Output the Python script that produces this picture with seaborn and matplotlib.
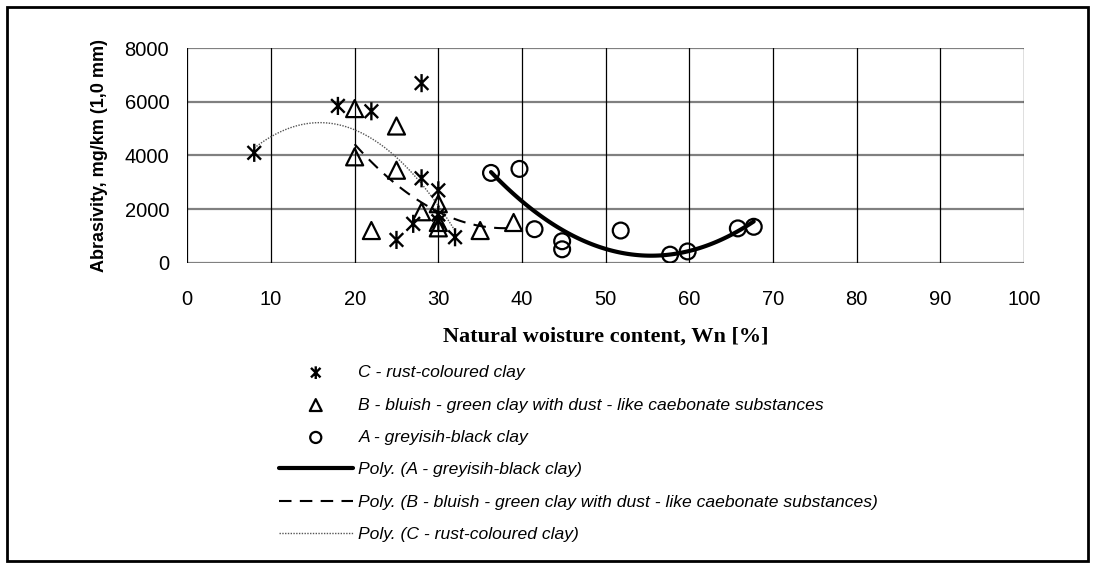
import numpy as np
import pandas as pd
import matplotlib
matplotlib.use("Agg")
import matplotlib.pyplot as plt
from matplotlib.path import Path
from matplotlib.patches import Rectangle
from matplotlib import font_manager
import seaborn as sns

# ---- data ----
C_x = [8, 18, 22, 28, 28, 30, 30, 30, 27, 25, 32]
C_y = [4100, 5850, 5650, 6700, 3150, 2700, 1800, 1550, 1450, 850, 950]

B_x = [20, 20, 22, 25, 25, 28, 30, 30, 30, 35, 39]
B_y = [5750, 3950, 1200, 5100, 3450, 1900, 2200, 1500, 1300, 1200, 1500]

A_x = [36.3, 39.7, 41.5, 44.8, 44.8, 51.8, 57.7, 59.8, 65.8, 67.7]
A_y = [3350, 3500, 1250, 800, 500, 1200, 300, 420, 1280, 1340]

label_C = "C - rust-coloured clay"
label_B = "B - bluish - green clay with dust - like caebonate substances"
label_A = "A - greyisih-black clay"
x_title = "Natural woisture content, Wn [%]"
y_title = "Abrasivity, mg/km (1,0 mm)"
x_ticks = [0, 10, 20, 30, 40, 50, 60, 70, 80, 90, 100]
y_ticks = [0, 2000, 4000, 6000, 8000]

sns.set_theme(style="white")
avail = {f.name for f in font_manager.fontManager.ttflist}
narrow = "Liberation Sans Narrow" if "Liberation Sans Narrow" in avail else "Liberation Sans"
plt.rcParams["font.family"] = [narrow, "DejaVu Sans"]

W, H = 1095, 568
fig = plt.figure(figsize=(W / 100, H / 100), dpi=100)
fig.patch.set_facecolor("white")
ax = fig.add_axes([187.3 / W, 1 - 262.7 / H, 836.7 / W, 214.4 / H])
ax.set_facecolor("white")

# asterisk marker: X with a vertical bar
star = Path([(0, -1), (0, 1), (-0.75, -0.75), (0.75, 0.75), (-0.75, 0.75), (0.75, -0.75)],
            [Path.MOVETO, Path.LINETO, Path.MOVETO, Path.LINETO, Path.MOVETO, Path.LINETO])

dfC = pd.DataFrame({"x": C_x, "y": C_y})
dfB = pd.DataFrame({"x": B_x, "y": B_y})
dfA = pd.DataFrame({"x": A_x, "y": A_y})

# trendlines (polynomial fits computed by seaborn)
sns.regplot(data=dfA, x="x", y="y", order=2, scatter=False, ci=None, truncate=True, ax=ax,
            line_kws=dict(color="black", lw=3.0, label="Poly. (" + label_A + ")", zorder=3))
lineA = ax.lines[-1]
sns.regplot(data=dfB, x="x", y="y", order=2, scatter=False, ci=None, truncate=True, ax=ax,
            line_kws=dict(color="black", lw=1.5, dashes=(6, 4), label="Poly. (" + label_B + ")", zorder=3))
lineB = ax.lines[-1]
sns.regplot(data=dfC, x="x", y="y", order=2, scatter=False, ci=None, truncate=True, ax=ax,
            line_kws=dict(color="#555555", lw=1.0, dashes=(1, 1), label="Poly. (" + label_C + ")", zorder=3))
lineC = ax.lines[-1]

sns.scatterplot(data=dfC, x="x", y="y", marker=star, s=170, facecolor="none", edgecolor="black",
                linewidth=1.7, ax=ax, label=label_C, zorder=4)
scC = ax.collections[-1]
sns.scatterplot(data=dfB, x="x", y="y", marker="^", s=150, facecolor="none", edgecolor="black",
                linewidth=1.6, ax=ax, label=label_B, zorder=4)
scB = ax.collections[-1]
sns.scatterplot(data=dfA, x="x", y="y", marker="o", s=130, facecolor="none", edgecolor="black",
                linewidth=1.6, ax=ax, label=label_A, zorder=4)
scA = ax.collections[-1]

ax.set_xlim(0, 100)
ax.set_ylim(0, 8000)
ax.set_xticks(x_ticks)
ax.set_yticks(y_ticks)
ax.set_xticklabels([str(v) for v in x_ticks])
ax.set_yticklabels([str(v) for v in y_ticks])
ax.tick_params(axis="both", length=0, labelsize=14.5, colors="black")
ax.tick_params(axis="x", pad=20)
ax.tick_params(axis="y", pad=13)

ax.grid(False)
for v in y_ticks:
    ax.axhline(v, color="#808080", lw=1.6, zorder=1)
for v in x_ticks:
    ax.axvline(v, color="black", lw=0.9, zorder=1)
for s in ax.spines.values():
    s.set_visible(False)

ax.set_xlabel(x_title, family=["Liberation Serif", "DejaVu Serif"], fontweight="bold",
              fontsize=16, color="black")
ax.xaxis.set_label_coords(0.5, -(337 - 262.7) / 214.4)
ax.xaxis.label.set_va("center")
ax.set_ylabel(y_title, family=[narrow, "DejaVu Sans"], fontweight="bold", fontsize=13, color="black")
ax.yaxis.set_label_coords(-(187.3 - 100) / 836.7, 0.5)
ax.yaxis.label.set_va("center")

if ax.get_legend() is not None:
    ax.get_legend().remove()

leg_fs = 12.6
handles = [scC, scB, scA, lineA, lineB, lineC]
labels = [label_C, label_B, label_A,
          "Poly. (" + label_A + ")", "Poly. (" + label_B + ")", "Poly. (" + label_C + ")"]
leg = fig.legend(handles, labels, loc="upper left", bbox_to_anchor=(279 / W, 1 - 365 / H),
                 bbox_transform=fig.transFigure, frameon=False, borderpad=0, borderaxespad=0,
                 handlelength=4.2, handletextpad=0.34, labelspacing=0.98, markerscale=0.7,
                 prop=dict(family=[narrow, "DejaVu Sans"], style="italic", size=leg_fs))
for t in leg.get_texts():
    t.set_color("black")

fig.patches.append(Rectangle((7 / W, 7 / H), (1088 - 7) / W, (561 - 7) / H,
                             transform=fig.transFigure, fill=False, lw=2, ec="black"))

fig.savefig("out.png", dpi=100, facecolor="white")
